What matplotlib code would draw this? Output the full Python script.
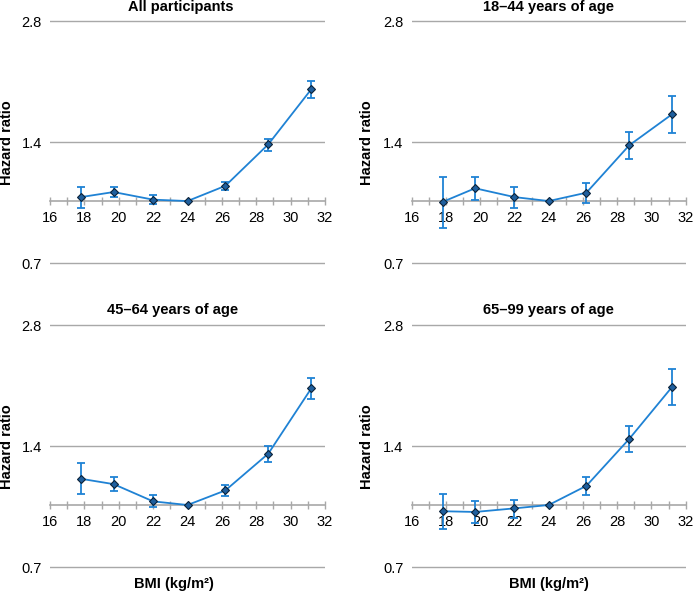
import matplotlib
matplotlib.use('Agg')
import matplotlib.pyplot as plt
from matplotlib.ticker import FixedLocator, FixedFormatter, NullLocator

plt.rcParams['font.family'] = ['Liberation Sans', 'DejaVu Sans']

# BMI category midpoints (x) shared by all panels
bmi = [17.8, 19.7, 22.0, 24.0, 26.2, 28.7, 31.2]

# Hazard ratios with lower / upper CI, one set per panel
hr_all = [1.023, 1.053, 1.008, 1.0, 1.091, 1.384, 1.897]
lo_all = [0.963, 1.022, 0.982, 1.0, 1.067, 1.334, 1.805]
hi_all = [1.084, 1.086, 1.036, 1.0, 1.115, 1.429, 1.985]

hr_18 = [0.995, 1.076, 1.023, 1.0, 1.049, 1.376, 1.644]
lo_18 = [0.857, 1.005, 0.963, 1.0, 0.987, 1.275, 1.476]
hi_18 = [1.146, 1.150, 1.086, 1.0, 1.110, 1.482, 1.822]

hr_45 = [1.162, 1.127, 1.021, 1.0, 1.087, 1.342, 1.950]
lo_45 = [1.064, 1.081, 0.986, 1.0, 1.050, 1.283, 1.836]
hi_45 = [1.269, 1.175, 1.057, 1.0, 1.123, 1.400, 2.069]

hr_65 = [0.965, 0.961, 0.981, 1.0, 1.116, 1.460, 1.966]
lo_65 = [0.874, 0.903, 0.930, 1.0, 1.056, 1.358, 1.777]
hi_65 = [1.064, 1.021, 1.032, 1.0, 1.177, 1.570, 2.174]

titles = ['All participants', '18\u201344 years of age', '45\u201364 years of age', '65\u201399 years of age']
y_ticks = [0.7, 1.4, 2.8]
y_tick_labels = ['0.7', '1.4', '2.8']
x_ticks = list(range(16, 33, 2))

line_color = '#1f82d4'
grid_color = '#a8a8a8'

fig = plt.figure(figsize=(6.93, 5.91), dpi=100)

# panel boxes in figure fractions: left, bottom, width, height
boxes = [
    [0.0722, 0.5515, 0.3968, 0.4154],
    [0.5941, 0.5515, 0.3954, 0.4154],
    [0.0722, 0.0372, 0.3968, 0.4154],
    [0.5941, 0.0372, 0.3954, 0.4154],
]
title_x = [0.476, 0.5, 0.446, 0.5]
ylabel_x = [-0.131, -0.138, -0.131, -0.138]
xlabel_x = [None, None, 0.451, 0.5]

data = [(hr_all, lo_all, hi_all), (hr_18, lo_18, hi_18),
        (hr_45, lo_45, hi_45), (hr_65, lo_65, hi_65)]

for i, (hr, lo, hi) in enumerate(data):
    ax = fig.add_axes(boxes[i])
    err = [[h - l for h, l in zip(hr, lo)], [u - h for h, u in zip(hr, hi)]]
    ax.errorbar(bmi, hr, yerr=err, fmt='none', ecolor=line_color, elinewidth=1.3,
                capsize=3, capthick=1.3, zorder=3)
    ax.plot(bmi, hr, color=line_color, lw=1.3, marker='D', markersize=4.2,
            markerfacecolor='#1f5f9e', markeredgecolor='#0b2238', markeredgewidth=0.8, zorder=4)

    ax.set_yscale('log', base=2)
    ax.set_ylim(0.7 / 1.01, 2.8 * 1.01)
    ax.yaxis.set_major_locator(FixedLocator(y_ticks))
    ax.yaxis.set_major_formatter(FixedFormatter(y_tick_labels))
    ax.yaxis.set_minor_locator(NullLocator())
    ax.tick_params(axis='y', length=0, pad=6, labelsize=10.5)
    ax.yaxis.grid(True, color=grid_color, lw=1.0)
    ax.set_axisbelow(True)

    ax.set_xlim(16, 32)
    ax.set_xticks(x_ticks)
    ax.set_xticks(range(16, 33), minor=True)
    ax.tick_params(axis='x', which='both', direction='inout', length=6,
                   width=1.0, color=grid_color, labelsize=10.5, pad=4.5)

    for side in ['left', 'right', 'top']:
        ax.spines[side].set_visible(False)
    ax.spines['bottom'].set_position(('data', 1.0))
    ax.spines['bottom'].set_color(grid_color)
    ax.spines['bottom'].set_linewidth(1.2)

    ax.set_title(titles[i], x=title_x[i], pad=6.5, fontsize=10.5, fontweight='bold')
    ax.set_ylabel('Hazard ratio', fontsize=10.5, fontweight='bold')
    ax.yaxis.set_label_coords(ylabel_x[i], 0.5)
    if xlabel_x[i] is not None:
        ax.set_xlabel('BMI (kg/m\u00b2)', fontsize=10.5, fontweight='bold')
        ax.xaxis.set_label_coords(xlabel_x[i], -0.034)

fig.savefig('out.png', dpi=100)
